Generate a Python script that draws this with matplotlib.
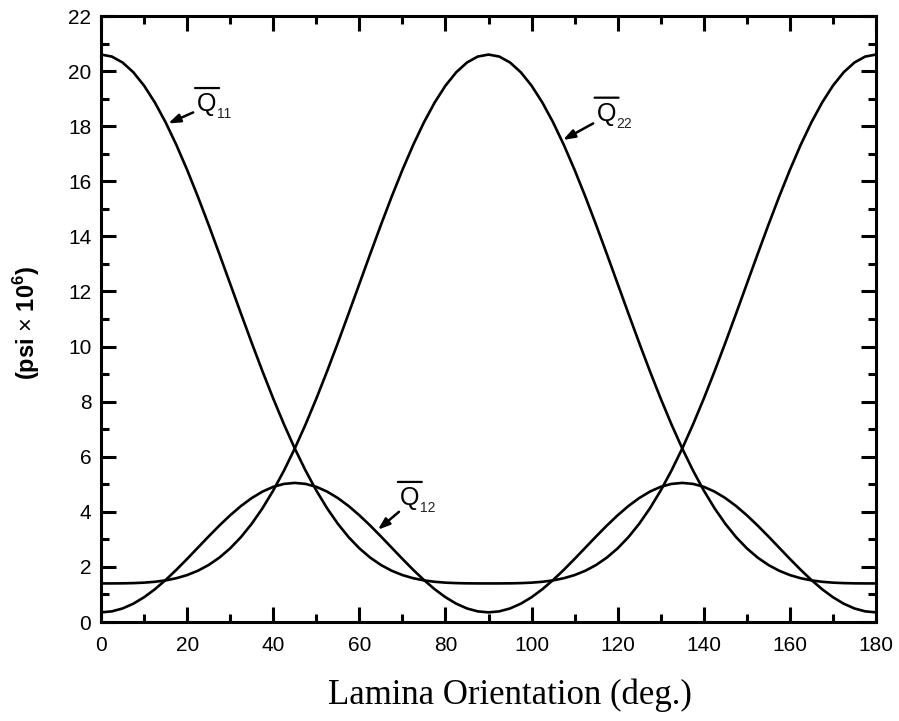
import numpy as np
import matplotlib
matplotlib.use("Agg")
import matplotlib.pyplot as plt
from matplotlib.transforms import offset_copy

plt.rcParams['font.family'] = ['Liberation Sans', 'DejaVu Sans']
plt.rcParams['mathtext.fontset'] = 'custom'
plt.rcParams['mathtext.rm'] = 'Liberation Sans'
plt.rcParams['mathtext.bf'] = 'Liberation Sans:bold'

# lamina angle, degrees
theta = np.arange(0, 182.5, 2.5)

# transformed reduced stiffnesses, psi x 10^6
q11 = [20.600, 20.528, 20.312, 19.958, 19.471, 18.861, 18.139, 17.318, 16.412, 15.438,
       14.413, 13.353, 12.275, 11.197, 10.133, 9.100, 8.109, 7.172, 6.300, 5.499,
       4.775, 4.130, 3.566, 3.082, 2.675, 2.340, 2.071, 1.862, 1.704, 1.590,
       1.511, 1.460, 1.429, 1.412, 1.404, 1.401, 1.400,
       1.401, 1.404, 1.412, 1.429, 1.460, 1.511, 1.590, 1.704, 1.862, 2.071,
       2.340, 2.675, 3.082, 3.566, 4.130, 4.775, 5.499, 6.300, 7.172, 8.109,
       9.100, 10.133, 11.197, 12.275, 13.353, 14.413, 15.438, 16.412, 17.318, 18.139,
       18.861, 19.471, 19.958, 20.312, 20.528, 20.600]

q22 = [1.400, 1.401, 1.404, 1.412, 1.429, 1.460, 1.511, 1.590, 1.704, 1.862,
       2.071, 2.340, 2.675, 3.082, 3.566, 4.130, 4.775, 5.499, 6.300, 7.172,
       8.109, 9.100, 10.133, 11.197, 12.275, 13.353, 14.413, 15.438, 16.412, 17.318,
       18.139, 18.861, 19.471, 19.958, 20.312, 20.528, 20.600,
       20.528, 20.312, 19.958, 19.471, 18.861, 18.139, 17.318, 16.412, 15.438, 14.413,
       13.353, 12.275, 11.197, 10.133, 9.100, 8.109, 7.172, 6.300, 5.499, 4.775,
       4.130, 3.566, 3.082, 2.675, 2.340, 2.071, 1.862, 1.704, 1.590, 1.511,
       1.460, 1.429, 1.412, 1.404, 1.401, 1.400]

q12 = [0.350, 0.386, 0.492, 0.665, 0.900, 1.189, 1.525, 1.896, 2.292, 2.700,
       3.108, 3.504, 3.875, 4.211, 4.500, 4.735, 4.908, 5.014, 5.050, 5.014,
       4.908, 4.735, 4.500, 4.211, 3.875, 3.504, 3.108, 2.700, 2.292, 1.896,
       1.525, 1.189, 0.900, 0.665, 0.492, 0.386, 0.350,
       0.386, 0.492, 0.665, 0.900, 1.189, 1.525, 1.896, 2.292, 2.700, 3.108,
       3.504, 3.875, 4.211, 4.500, 4.735, 4.908, 5.014, 5.050, 5.014, 4.908,
       4.735, 4.500, 4.211, 3.875, 3.504, 3.108, 2.700, 2.292, 1.896, 1.525,
       1.189, 0.900, 0.665, 0.492, 0.386, 0.350]

subscripts = ['11', '22', '12']

fig = plt.figure(figsize=(8.99, 7.21), dpi=100)
ax = fig.add_axes([0.1124, 0.1373, 0.862, 0.8405])

for q in (q11, q22, q12):
    ax.plot(theta, q, color='black', lw=1.9, solid_joinstyle='round')

ax.set_xlim(0, 180)
ax.set_ylim(0, 22)
ax.set_xticks(range(0, 181, 20))
ax.set_xticks(range(10, 180, 20), minor=True)
ax.set_yticks(range(0, 23, 2))
ax.set_yticks(range(1, 22, 2), minor=True)

for s in ax.spines.values():
    s.set_linewidth(2.2)
ax.tick_params(which='both', direction='in', top=True, right=True, width=2.2)
ax.tick_params(which='major', length=11)
ax.tick_params(which='minor', length=6)
ax.tick_params(axis='x', which='major', labelsize=15, pad=10)
ax.tick_params(axis='y', which='major', labelsize=15, pad=7)

fig.text(0.567, 0.036, 'Lamina Orientation (deg.)', family='Liberation Serif',
         fontsize=25, ha='center', va='center')
fig.text(0.030, 0.552, r'(psi $\times$ 10$^{\mathbf{6}}$)', fontsize=17,
         fontweight='bold', rotation=90, ha='center', va='center')


def shifted(dx, dy):
    return offset_copy(ax.transData, fig=fig, x=dx, y=dy, units='dots')


# curve labels: Q with an overbar, small subscript, arrow onto the curve
arrows = [((15.6, 18.1), (21.4, 18.5), (22.3, 18.55)),
          ((107.3, 17.5), (114.3, 18.1), (115.1, 18.2)),
          ((64.3, 3.35), (69.2, 4.0), (69.4, 4.25))]
for sub, (tip, tail, pos) in zip(subscripts, arrows):
    ax.annotate('', xy=tip, xytext=tail,
                arrowprops=dict(arrowstyle='-|>,head_length=0.7,head_width=0.25',
                                color='black', lw=1.8, shrinkA=0, shrinkB=0))
    ax.text(pos[0], pos[1], 'Q', fontsize=18, ha='left', va='baseline')
    ax.text(pos[0], pos[1], sub, fontsize=10, color='#222222', ha='left',
            va='baseline', transform=shifted(20, -7))
    ax.annotate('', xy=pos, xycoords=shifted(-2, 23), xytext=pos,
                textcoords=shifted(22, 23),
                arrowprops=dict(arrowstyle='-', color='black', lw=1.6,
                                shrinkA=0, shrinkB=0))

fig.savefig('out.png', dpi=100)
